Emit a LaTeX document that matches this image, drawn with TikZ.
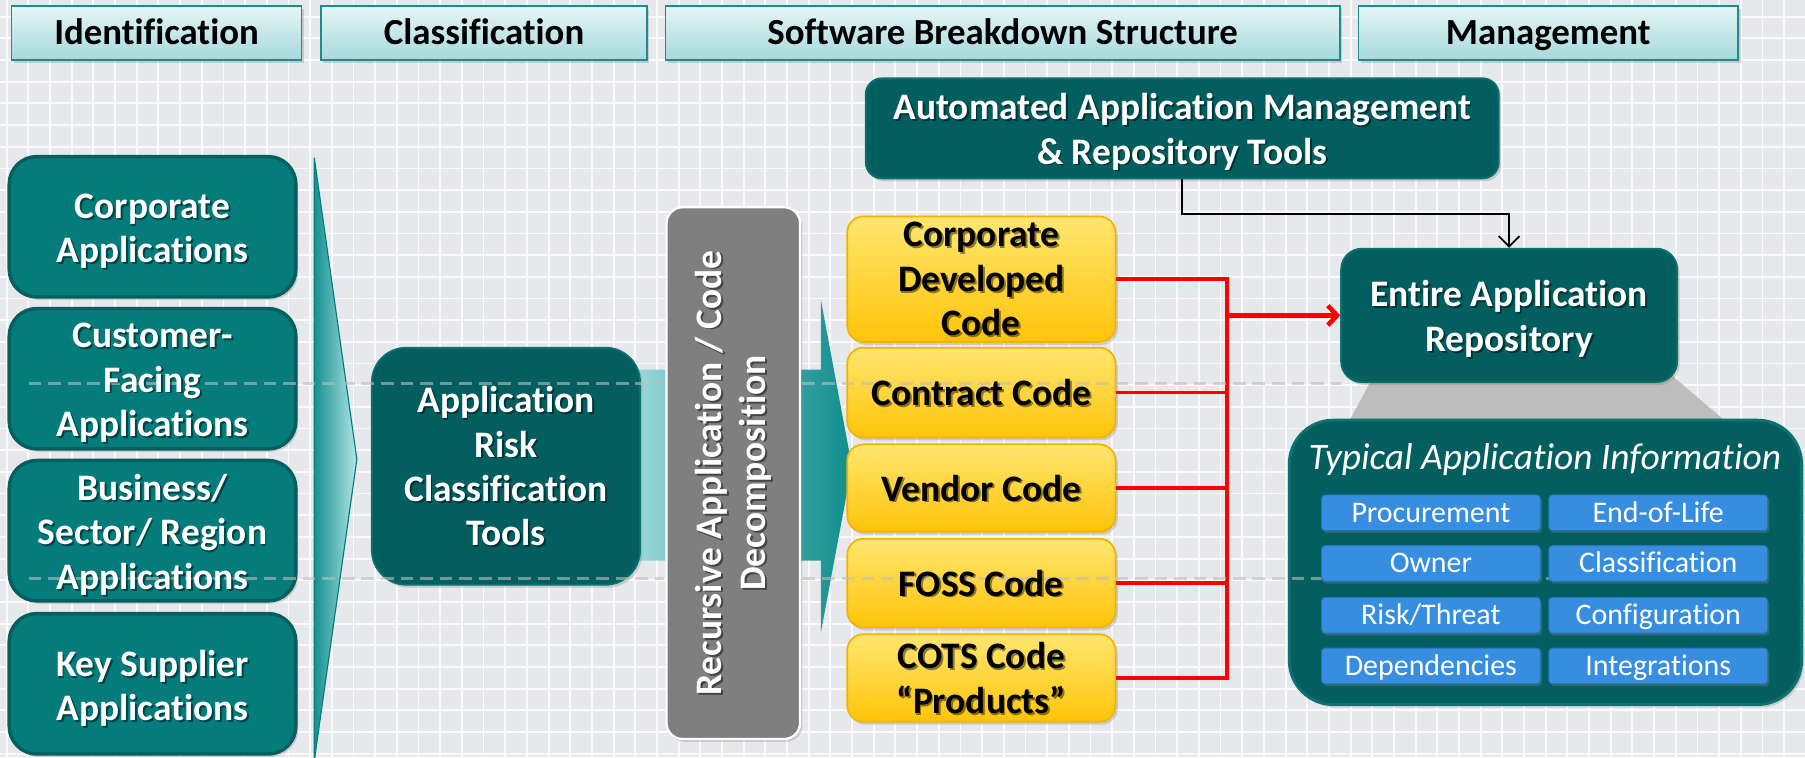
\documentclass[tikz,border=0pt]{standalone}
\usepackage{fontspec}
\setmainfont{Carlito}[Ligatures=NoCommon]
\usetikzlibrary{arrows.meta,calc,shadows}
\definecolor{bgc}{HTML}{E7E8EB}
\definecolor{gridc}{HTML}{FAFAFB}
\definecolor{hdrT}{HTML}{E6F5F6}
\definecolor{hdrBo}{HTML}{A6D9DC}
\definecolor{hdrB}{HTML}{1E8B8D}
\definecolor{tealA}{HTML}{047C7C}
\definecolor{tealAB}{HTML}{065E5E}
\definecolor{tealD}{HTML}{035F5F}
\definecolor{tealDB}{HTML}{0B7171}
\definecolor{chevL}{HTML}{159090}
\definecolor{chevR}{HTML}{B4E7E8}
\definecolor{bandL}{HTML}{A2DCDE}
\definecolor{bandR}{HTML}{118D8D}
\definecolor{grayBox}{HTML}{7F7F7F}
\definecolor{yelT}{HTML}{FFE670}
\definecolor{yelB}{HTML}{FFC408}
\definecolor{yelD}{HTML}{F3B300}
\definecolor{pillc}{HTML}{378EE0}
\definecolor{pillB}{HTML}{2A72B8}
\definecolor{trapc}{HTML}{BDBDBD}
\definecolor{dashc}{HTML}{BEBEBE}
\definecolor{redc}{HTML}{FF0000}
\newcommand\shtxt[4]{%
  \node[#2, text=black, opacity=0.45] (#1s) at ($(#3)+(1.6,1.6)$) {#4};
  \node[#2] (#1) at (#3) {#4};}
\begin{document}
\begin{tikzpicture}[x=1pt,y=-1pt,
  shd/.style={drop shadow={shadow xshift=2pt,shadow yshift=-2.5pt,opacity=0.3}},
  hdr/.style={rectangle, draw=hdrB, line width=1.5pt, top color=hdrT, bottom color=hdrBo,
    minimum height=47pt, inner sep=0pt, text height=25pt, text depth=4pt,
    font=\bfseries\fontsize{32}{38}\selectfont, shd},
  lbox/.style={rectangle, rounded corners=24pt, fill=tealA, draw=tealAB, line width=3pt,
    minimum width=249pt, minimum height=122pt, shd},
  dbox/.style={rectangle, fill=tealD, draw=tealDB, line width=1.5pt, shd},
  gbox/.style={rectangle, rounded corners=14pt, fill=grayBox, draw=white, line width=2pt,
    minimum width=116pt, minimum height=462pt, shd},
  ybox/.style={rectangle, rounded corners=14pt, top color=yelT, bottom color=yelB, draw=yelD,
    line width=1.5pt, minimum width=233pt, shd},
  pillst/.style={rectangle, rounded corners=3pt, fill=pillc, draw=pillB, line width=0.8pt,
    minimum width=190pt, minimum height=31pt, inner sep=0pt, text=white,
    text height=19.5pt, text depth=3.5pt,
    font=\fontsize{26}{30}\selectfont,
    drop shadow={shadow xshift=1.5pt,shadow yshift=-2pt,opacity=0.35}},
  wtxt/.style={text=white, font=\bfseries\fontsize{32.5}{38.5}\selectfont, align=center, inner sep=0pt},
  btxt/.style={text=black, font=\bfseries\fontsize{32.5}{38.5}\selectfont, align=center, inner sep=0pt},
  ititle/.style={text=white, font=\itshape\fontsize{32.5}{38}\selectfont, inner sep=0pt},
  redl/.style={draw=redc, line width=3pt},
  redarr/.style={draw=redc, line width=4pt, -{Straight Barb[length=8pt,width=17pt]}},
  blkarr/.style={draw=black, line width=1.6pt, -{Straight Barb[length=9pt,width=18pt]}},
  dashl/.style={draw=dashc, line width=3pt, dash pattern=on 11pt off 6pt, opacity=0.6}
]
\useasboundingbox (0,0) rectangle (1568,658);
\clip (0,0) rectangle (1568,658);
\fill[bgc] (0,0) rectangle (1568,658);
\foreach \i in {0,...,83} \draw[gridc,line width=1.6pt] ({5.8+\i*18.83},0) -- ({5.8+\i*18.83},658);
\foreach \j in {0,...,34} \draw[gridc,line width=1.6pt] (0,{14.5+\j*18.83}) -- (1568,{14.5+\j*18.83});

% headers
\node[hdr, minimum width=252pt] (h1) at (136,28.5) {Identification};
\node[hdr, minimum width=283pt] (h2) at (420.5,28.5) {Classification};
\node[hdr, minimum width=586pt] (h3) at (871,28.5) {Software Breakdown Structure};
\node[hdr, minimum width=330pt] (h4) at (1345,28.5) {Management};

% big chevron and band arrow
\path[left color=chevL, right color=chevR, draw=tealA, line width=1pt]
  (273,137) -- (310,399) -- (273,661) -- cycle;
\path[left color=bandL, right color=bandR]
  (540,321) -- (713,321) -- (713,260) -- (740,405) -- (713,550) -- (713,487) -- (540,487) -- cycle;

% left boxes
\node[lbox] (corp) at (132.5,197) {};
\node[lbox] (cust) at (132.5,329) {};
\node[lbox] (busi) at (132.5,461) {};
\node[lbox] (keys) at (132.5,594) {};

% classification and decomposition
\node[dbox, rounded corners=30pt, minimum width=233pt, minimum height=206pt] (risk) at (439.5,405) {};
\node[gbox] (recur) at (637,411) {};

% management
\node[dbox, rounded corners=14pt, minimum width=550pt, minimum height=87pt] (auto) at (1027,111.5) {};
\fill[trapc] (1194,325) -- (1451,325) -- (1499,366) -- (1172,366) -- cycle;
\node[dbox, rounded corners=18pt, minimum width=292pt, minimum height=116pt] (repo) at (1311,274) {};
\node[dbox, rounded corners=38pt, line width=2.5pt, minimum width=445pt, minimum height=247pt] (typ) at (1342.5,488.5) {};

% yellow boxes
\node[ybox, minimum height=109pt] (ycorp) at (852.5,242.5) {};
\node[ybox, minimum height=78pt] (ycont) at (852.5,341) {};
\node[ybox, minimum height=76pt] (yvend) at (852.5,424) {};
\node[ybox, minimum height=77pt] (yfoss) at (852.5,506.5) {};
\node[ybox, minimum height=76pt] (ycots) at (852.5,589) {};

% connectors
\coordinate (redbus) at (1066,274);
\draw[redl] (ycorp.east) -| (redbus);
\draw[redl] (ycont.east) -| (redbus);
\draw[redl] (yvend.east) -| (redbus);
\draw[redl] (yfoss.east) -| (redbus);
\draw[redl] (ycots.east) -| (redbus);
\draw[redarr] (redbus) -- (repo.west);
\draw[blkarr] (auto.south) -- ++(0,30.5) -| (repo.north);

% dashed guide lines
\draw[dashl] (25,333) -- (577,333);
\draw[dashl] (697,333) -- (1165,333);
\draw[dashl] (25,502.5) -- (577,502.5);
\draw[dashl] (697,502.5) -- (1351,502.5);

% pills
\node[pillst] (p1) at (1243,445.5) {Procurement};
\node[pillst] (p2) at (1440.5,445.5) {End-of-Life};
\node[pillst] (p3) at (1243,489.5) {Owner};
\node[pillst] (p4) at (1440.5,489.5) {Classification};
\node[pillst] (p5) at (1243,534.5) {Risk/Threat};
\node[pillst] (p6) at (1440.5,534.5) {Configuration};
\node[pillst] (p7) at (1243,578.5) {Dependencies};
\node[pillst] (p8) at (1440.5,578.5) {Integrations};

% texts
\shtxt{tcorp}{wtxt,yshift=-4pt}{corp.center}{Corporate\\Applications}
\shtxt{tcust}{wtxt,yshift=-3.5pt}{cust.center}{Customer-\\Facing\\Applications}
\shtxt{tbusi}{wtxt,yshift=-3.5pt}{busi.center}{Business/\\Sector/ Region\\Applications}
\shtxt{tkeys}{wtxt,yshift=-4pt}{keys.center}{Key Supplier\\Applications}
\shtxt{trisk}{wtxt}{risk.center}{Application\\Risk\\Classification\\Tools}
\shtxt{trecur}{wtxt, rotate=90}{recur.center}{Recursive Application / Code\\Decomposition}
\shtxt{tauto}{wtxt,yshift=-3pt}{auto.center}{Automated Application Management\\\& Repository Tools}
\shtxt{trepo}{wtxt,yshift=-3pt}{repo.center}{Entire Application\\Repository}
\shtxt{tycorp}{btxt}{ycorp.center}{Corporate\\Developed\\Code}
\shtxt{tycont}{btxt}{ycont.center}{Contract Code}
\shtxt{tyvend}{btxt}{yvend.center}{Vendor Code}
\shtxt{tyfoss}{btxt}{yfoss.center}{FOSS Code}
\shtxt{tycots}{btxt}{ycots.center}{COTS Code\\“Products”}
\coordinate (typtitle) at (1342,399);
\node[ititle] (ttyp) at (typtitle) {Typical Application Information};
\end{tikzpicture}
\end{document}
